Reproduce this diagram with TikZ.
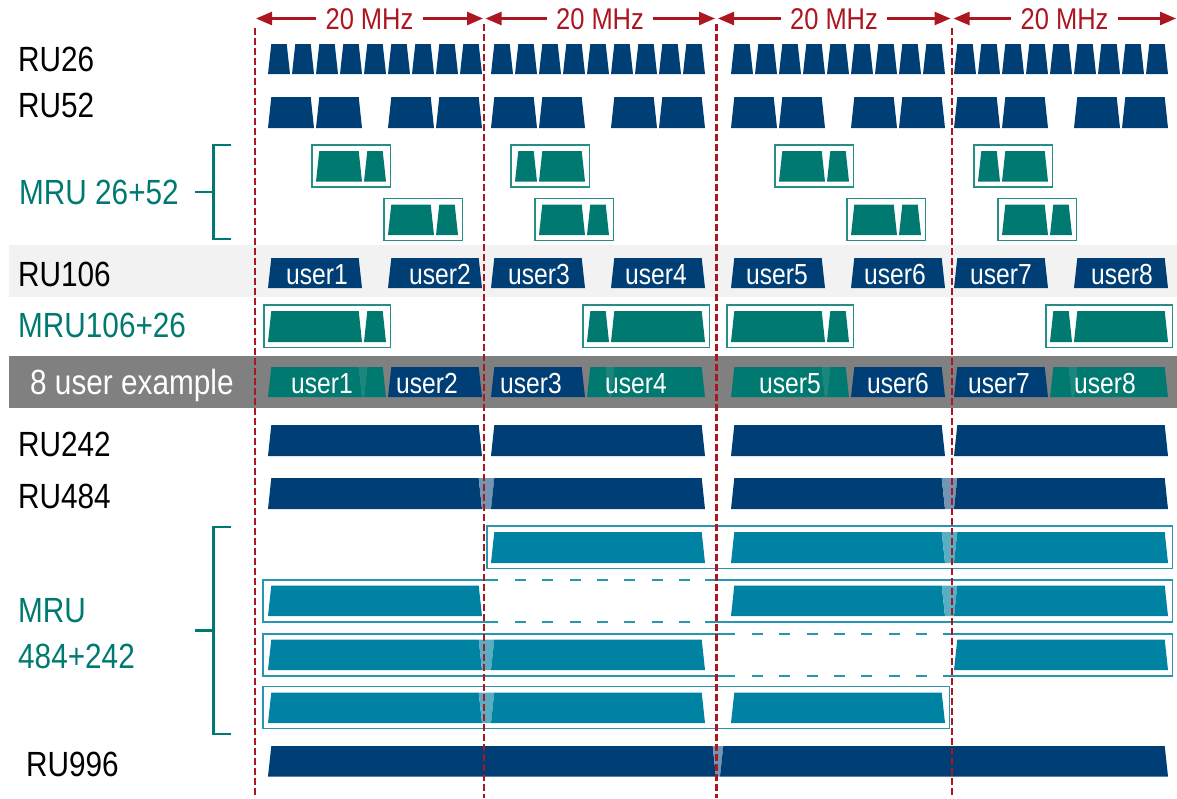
\documentclass[tikz,border=0pt]{standalone}
\usepackage{fontspec}
\setmainfont{Liberation Sans}[FakeStretch=0.85]
\usetikzlibrary{arrows.meta}
\definecolor{navy}{RGB}{0,63,117}
\definecolor{tealg}{RGB}{0,122,112}
\definecolor{cyanb}{RGB}{0,131,163}
\definecolor{redd}{RGB}{172,22,32}
\definecolor{lband}{RGB}{242,242,242}
\definecolor{dband}{RGB}{128,128,128}
% trapezoid block: colour, left, right, top, bottom
\newcommand\trap[5]{\fill[#1] ({#2+1},#5) -- ({#3-1},#5) -- ({#3-4.3},#4) -- ({#2+4.3},#4) -- cycle;}
% block over slots k1..k2 of a channel starting at s (slot width 24)
\newcommand\ruslot[6]{\trap{#1}{#2+24*((#3)-1)}{#2+24*(#4)}{#5}{#6}}
% light seam between a block ending at b and one starting at a
\newcommand\seam[5]{\fill[#1] ({#2-1},#5) -- ({#3+1},#5) -- ({#3+4.3},#4) -- ({#2-4.3},#4) -- cycle;}
% outline box round blocks a..b, top..bottom
\newcommand\rubox[5]{\draw[#1] ({#2-3},{#4-6}) rectangle ({#3+3.5},{#5+5.5});}
\begin{document}
\begin{tikzpicture}[x=1pt,y=-1pt,
  lab/.style={anchor=base west, font=\fontsize{35}{40}\selectfont, inner sep=0pt},
  ulab/.style={anchor=base, font=\fontsize{29}{32}\selectfont, text=white, inner sep=0pt},
  mhz/.style={font=\fontsize{30}{34}\selectfont, text=redd, inner xsep=9pt, inner ysep=0pt, text height=21.5pt, text depth=0pt},
  arr/.style={draw=redd, line width=2.5pt, -{Triangle[length=16pt,width=13pt]}},
  reddash/.style={draw=redd, line width=2.5pt, dash pattern=on 6.5pt off 3.5pt},
  tbox/.style={draw=tealg!85!white, line width=1.6pt},
  cbox/.style={draw=cyanb!85!white, line width=1.6pt},
  cdash/.style={cbox, dash pattern=on 11pt off 16.3pt},
  brk/.style={draw=tealg, line width=2.6pt}]
\useasboundingbox (0,0) rectangle (1177,798);
% bands
\fill[lband] (9,245) rectangle (1177,297);
\fill[dband] (9,356) rectangle (1177,408);
% RU26
\foreach \s in {267,490,730,953}{\foreach \k in {1,...,9}{\ruslot{navy}{\s}{\k}{\k}{44}{74}}}
% RU52
\foreach \s in {267,490,730,953}{\foreach \k in {1,3,6,8}{\ruslot{navy}{\s}{\k}{\k+1}{97}{128}}}
% MRU 26+52
\foreach \s in {267,730}{
  \ruslot{tealg}{\s}{3}{4}{151}{181.5}\ruslot{tealg}{\s}{5}{5}{151}{181.5}
  \rubox{tbox}{\s+48}{\s+120}{151}{181.5}
  \ruslot{tealg}{\s}{6}{7}{204.5}{235}\ruslot{tealg}{\s}{8}{8}{204.5}{235}
  \rubox{tbox}{\s+120}{\s+192}{204.5}{235}}
\foreach \s in {490,953}{
  \ruslot{tealg}{\s}{2}{2}{151}{181.5}\ruslot{tealg}{\s}{3}{4}{151}{181.5}
  \rubox{tbox}{\s+24}{\s+96}{151}{181.5}
  \ruslot{tealg}{\s}{3}{4}{204.5}{235}\ruslot{tealg}{\s}{5}{5}{204.5}{235}
  \rubox{tbox}{\s+48}{\s+120}{204.5}{235}}
% RU106
\foreach \s in {267,490,730,953}{\ruslot{navy}{\s}{1}{4}{258}{288}\ruslot{navy}{\s}{6}{9}{258}{288}}
\node[ulab] (r1) at (317,284) {user1};
\node[ulab] (r2) at (440,284) {user2};
\node[ulab] (r3) at (539,284) {user3};
\node[ulab] (r4) at (656,284) {user4};
\node[ulab] (r5) at (777,284) {user5};
\node[ulab] (r6) at (895,284) {user6};
\node[ulab] (r7) at (1001,284) {user7};
\node[ulab] (r8) at (1122,284) {user8};
% MRU106+26
\foreach \s in {267,730}{\ruslot{tealg}{\s}{1}{4}{311}{342}\ruslot{tealg}{\s}{5}{5}{311}{342}
  \rubox{tbox}{\s}{\s+120}{311}{342}}
\foreach \s in {490,953}{\ruslot{tealg}{\s}{5}{5}{311}{342}\ruslot{tealg}{\s}{6}{9}{311}{342}
  \rubox{tbox}{\s+96}{\s+216}{311}{342}}
% 8 user example
\foreach \s in {267,730}{\ruslot{tealg}{\s}{1}{4}{367}{397}\ruslot{tealg}{\s}{5}{5}{367}{397}
  \seam{tealg!90!white}{\s+96}{\s+96}{367}{397}
  \ruslot{navy}{\s}{6}{9}{367}{397}}
\foreach \s in {490,953}{\ruslot{navy}{\s}{1}{4}{367}{397}
  \ruslot{tealg}{\s}{5}{5}{367}{397}\ruslot{tealg}{\s}{6}{9}{367}{397}
  \seam{tealg!90!white}{\s+120}{\s+120}{367}{397}}
\node[ulab] (e1) at (322,393) {user1};
\node[ulab] (e2) at (427,393) {user2};
\node[ulab] (e3) at (531,393) {user3};
\node[ulab] (e4) at (636,393) {user4};
\node[ulab] (e5) at (790,393) {user5};
\node[ulab] (e6) at (898,393) {user6};
\node[ulab] (e7) at (999,393) {user7};
\node[ulab] (e8) at (1105,393) {user8};
% RU242
\foreach \s in {267,490,730,953}{\ruslot{navy}{\s}{1}{9}{425}{456}}
% RU484
\ruslot{navy}{267}{1}{9}{478}{509}\seam{navy!55!white}{483}{490}{478}{509}\ruslot{navy}{490}{1}{9}{478}{509}
\ruslot{navy}{730}{1}{9}{478}{509}\seam{navy!55!white}{946}{953}{478}{509}\ruslot{navy}{953}{1}{9}{478}{509}
% MRU 484+242 row A
\ruslot{cyanb}{490}{1}{9}{532}{563}
\ruslot{cyanb}{730}{1}{9}{532}{563}\seam{cyanb!65!white}{946}{953}{532}{563}\ruslot{cyanb}{953}{1}{9}{532}{563}
\rubox{cbox}{490}{1169}{532}{563}
% row B
\ruslot{cyanb}{267}{1}{9}{585.5}{616}
\ruslot{cyanb}{730}{1}{9}{585.5}{616}\seam{cyanb!65!white}{946}{953}{585.5}{616}\ruslot{cyanb}{953}{1}{9}{585.5}{616}
\draw[cbox] (498,580) -- (263,580) -- (263,622) -- (498,622);
\draw[cbox] (705,580) -- (1172.5,580) -- (1172.5,622) -- (705,622);
\draw[cdash] (515,580) -- (692,580);
\draw[cdash] (515,622) -- (692,622);
% row C
\ruslot{cyanb}{267}{1}{9}{639.5}{670}\seam{cyanb!65!white}{483}{490}{639.5}{670}\ruslot{cyanb}{490}{1}{9}{639.5}{670}
\ruslot{cyanb}{953}{1}{9}{639.5}{670}
\draw[cbox] (735,634) -- (263,634) -- (263,676) -- (735,676);
\draw[cbox] (943,634) -- (1172.5,634) -- (1172.5,676) -- (943,676);
\draw[cdash] (752,634) -- (930,634);
\draw[cdash] (752,676) -- (930,676);
% row D
\ruslot{cyanb}{267}{1}{9}{692.5}{723}\seam{cyanb!65!white}{483}{490}{692.5}{723}\ruslot{cyanb}{490}{1}{9}{692.5}{723}
\ruslot{cyanb}{730}{1}{9}{692.5}{723}
\rubox{cbox}{266}{946}{692.5}{723}
% RU996
\trap{navy}{267}{717}{746}{776.5}\seam{navy!55!white}{717}{719}{746}{776.5}\trap{navy}{719}{1169}{746}{776.5}
% left labels
\node[lab] (l26) at (18,71) {RU26};
\node[lab] (l52) at (18,117) {RU52};
\node[lab,text=tealg] (lm1) at (19,204) {MRU 26+52};
\node[lab] (l106) at (18,286.5) {RU106};
\node[lab,text=tealg] (lm2) at (18,337) {MRU106+26};
\node[lab,text=white] (l8) at (30,394) {8 user example};
\node[lab] (l242) at (18,456) {RU242};
\node[lab] (l484) at (18,508) {RU484};
\node[lab,text=tealg] (lm3) at (18,622) {MRU};
\node[lab,text=tealg] (lm4) at (18,668) {484+242};
\node[lab] (l996) at (26,776) {RU996};
% brackets
\draw[brk] (231,145) -- (213.5,145) -- (213.5,239) -- (231,239);
\draw[brk] (195,192) -- (213.5,192);
\draw[brk] (231,527) -- (213.5,527) -- (213.5,734) -- (231,734);
\draw[brk] (195,630.5) -- (213.5,630.5);
% red channel lines
\draw[reddash] (255,28) -- (255,798);
\draw[reddash] (484,24) -- (484,798);
\draw[reddash] (716.5,24) -- (716.5,798);
\draw[reddash] (952,28) -- (952,798);
% 20 MHz arrows
\coordinate (c1l) at (256,18.5); \coordinate (c1r) at (483,18.5);
\coordinate (c2l) at (485.5,18.5); \coordinate (c2r) at (715,18.5);
\coordinate (c3l) at (718,18.5); \coordinate (c3r) at (950.5,18.5);
\coordinate (c4l) at (953.5,18.5); \coordinate (c4r) at (1176,18.5);
\node[mhz] (m1) at (369.5,18.5) {20 MHz};
\node[mhz] (m2) at (600,18.5) {20 MHz};
\node[mhz] (m3) at (834,18.5) {20 MHz};
\node[mhz] (m4) at (1064.5,18.5) {20 MHz};
\foreach \i in {1,2,3,4}{\draw[arr] (m\i.west) -- (c\i l); \draw[arr] (m\i.east) -- (c\i r);}
\end{tikzpicture}
\end{document}
